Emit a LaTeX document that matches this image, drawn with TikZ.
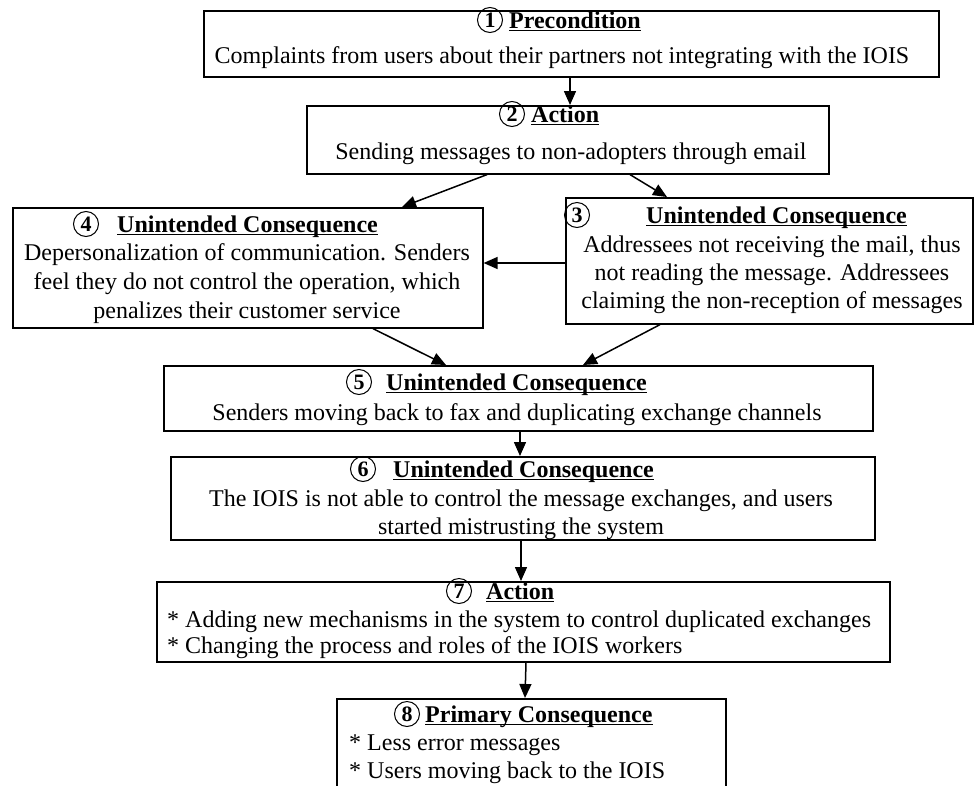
\documentclass[tikz,border=0pt]{standalone}
\usepackage{fontspec}
\setmainfont{Liberation Serif}
\usetikzlibrary{arrows.meta}
\begin{document}
\begin{tikzpicture}[x=1pt,y=-1pt,
  box/.style={draw, line width=1.6pt, anchor=north west, inner sep=0pt},
  txt/.style={font=\fontsize{24}{28.5}\selectfont, inner sep=0pt, anchor=base},
  ltxt/.style={txt, anchor=base west},
  ttl/.style={font=\fontsize{24}{28.5}\selectfont\bfseries, inner sep=0pt, anchor=base west},
  num/.style={draw, circle, line width=1pt, inner sep=0pt, minimum size=25pt,
              font=\fontsize{22}{24}\selectfont\bfseries},
  ul/.style={line width=1.5pt},
  arr/.style={line width=1.5pt, -{Triangle[length=14pt,width=12pt]}}
]
\useasboundingbox (0,0) rectangle (975,785);
\clip (0,0) rectangle (975,785);

% boxes
\node[box, minimum width=735pt, minimum height=66pt]  (b1) at (203,10) {};
\node[box, minimum width=522pt, minimum height=68pt]  (b2) at (306,105) {};
\node[box, minimum width=470pt, minimum height=120pt] (b4) at (12,207) {};
\node[box, minimum width=407pt, minimum height=126pt] (b3) at (565,197) {};
\node[box, minimum width=709pt, minimum height=65pt]  (b5) at (163,365) {};
\node[box, minimum width=704pt, minimum height=83pt]  (b6) at (170,456) {};
\node[box, minimum width=733pt, minimum height=80pt]  (b7) at (156,581) {};
\node[box, minimum width=389pt, minimum height=120pt] (b8) at (336,698) {};

% titles: circled step number, bold underlined heading
\newcommand\steptitle[5]{%
  \node[num] (n#1) at (#2,#4-8) {#1};
  \node[ttl] (t#1) at (#3,#4) {#5};
  \draw[ul] ([yshift=-2.5pt]t#1.base west) -- ([yshift=-2.5pt]t#1.base east);}
\steptitle{1}{490}{509}{28}{Precondition}
\steptitle{2}{512}{531}{122}{Action}
\steptitle{4}{86}{117}{232}{Unintended Consequence}
\steptitle{3}{577}{646}{223}{Unintended Consequence}
\steptitle{5}{359}{386}{390}{Unintended Consequence}
\steptitle{6}{363}{393}{477}{Unintended Consequence}
\steptitle{7}{459}{486}{599}{Action}
\steptitle{8}{407}{425}{722}{Primary Consequence}

% body texts
\node[txt] (x1) at (562,63) {Complaints from users about their partners not integrating with the IOIS};
\node[txt] (x2) at (571,159) {Sending messages to non-adopters through email};
\node[txt] (x4a) at (247,260) {Depersonalization of communication. Senders};
\node[txt] (x4b) at (247,289) {feel they do not control the operation, which};
\node[txt] (x4c) at (247,318) {penalizes their customer service};
\node[txt] (x3a) at (772,252) {Addressees not receiving the mail, thus};
\node[txt] (x3b) at (772,280) {not reading the message. Addressees};
\node[txt] (x3c) at (772,308) {claiming the non-reception of messages};
\node[txt] (x5) at (517,420) {Senders moving back to fax and duplicating exchange channels};
\node[txt] (x6a) at (521,506) {The IOIS is not able to control the message exchanges, and users};
\node[txt] (x6b) at (521,534) {started mistrusting the system};
\node[ltxt] (x7a) at (167,627) {* Adding new mechanisms in the system to control duplicated exchanges};
\node[ltxt] (x7b) at (167,653) {* Changing the process and roles of the IOIS workers};
\node[ltxt] (x8a) at (349,750) {* Less error messages};
\node[ltxt] (x8b) at (349,778) {* Users moving back to the IOIS};

% connectors
\draw[arr] ([xshift=367pt]b1.south west) -- ([xshift=264pt]b2.north west);
\draw[arr] ([xshift=181pt]b2.south west) -- ([xshift=390pt]b4.north west);
\draw[arr] ([xshift=324pt]b2.south west) -- ([xshift=102pt]b3.north west);
\draw[arr] ([yshift=-66pt]b3.north west) -- ([yshift=-56pt]b4.north east);
\draw[arr] ([xshift=361pt]b4.south west) -- ([xshift=283pt]b5.north west);
\draw[arr] ([xshift=95pt]b3.south west) -- ([xshift=420pt]b5.north west);
\draw[arr] ([xshift=357pt]b5.south west) -- ([xshift=350pt]b6.north west);
\draw[arr] ([xshift=351pt]b6.south west) -- ([xshift=365pt]b7.north west);
\draw[arr] ([xshift=370pt]b7.south west) -- ([xshift=189pt]b8.north west);
\end{tikzpicture}
\end{document}
